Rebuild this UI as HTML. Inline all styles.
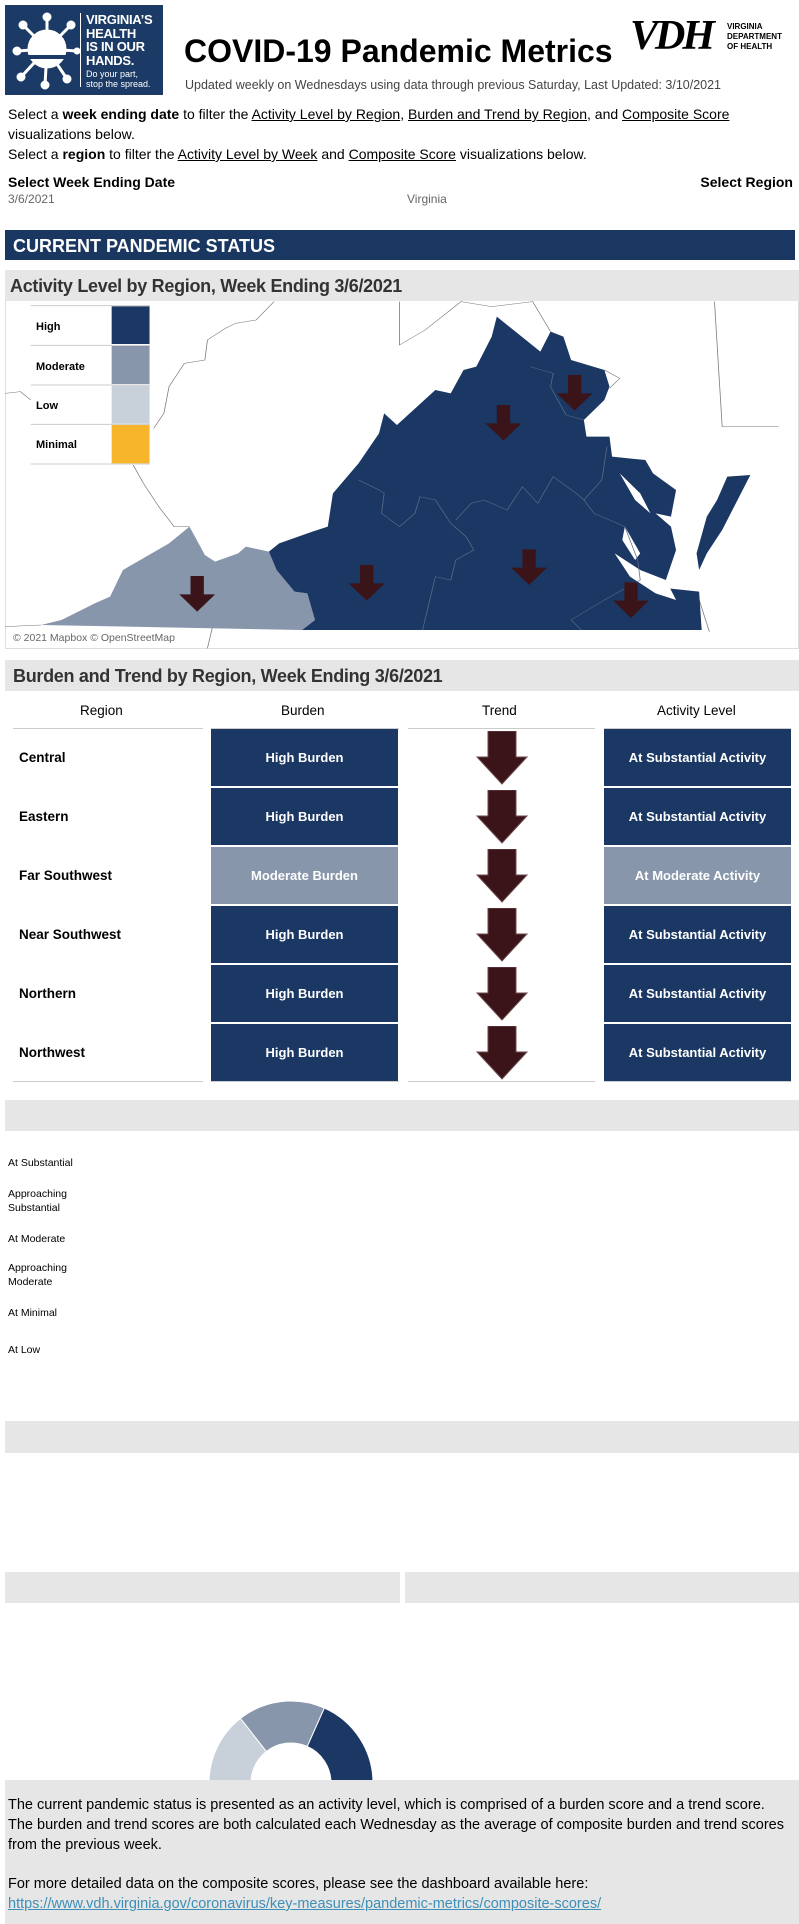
<!DOCTYPE html>
<html><head><meta charset="utf-8">
<style>
*{margin:0;padding:0;box-sizing:border-box}
body{width:799px;height:1924px;position:relative;background:#fff;font-family:"Liberation Sans",sans-serif;overflow:hidden;color:#000}
.a{position:absolute;white-space:nowrap}
.gbar{position:absolute;background:#e6e6e6}
.hdr{font-weight:bold;color:#333;font-size:18px;letter-spacing:-0.3px}
u{text-decoration:underline}
.cell{position:absolute;color:#fff;font-weight:bold;font-size:13px;display:flex;align-items:center;justify-content:center}
.rn{position:absolute;font-weight:bold;font-size:13.5px;left:19px}
.lbl{position:absolute;left:8px;font-size:10.5px;line-height:14px}
</style></head><body>

<!-- Logo -->
<div class="a" style="left:5px;top:5px;width:158px;height:90px;background:#1c3a66">
  <svg width="80" height="90" style="position:absolute;left:0;top:0">
    <g fill="#fff" stroke="#fff">
      <circle cx="42" cy="44" r="19"/>
      <g stroke-width="3">
        <line x1="42" y1="44" x2="42" y2="12"/><line x1="42" y1="44" x2="66" y2="20"/>
        <line x1="42" y1="44" x2="72" y2="46"/><line x1="42" y1="44" x2="62" y2="74"/>
        <line x1="42" y1="44" x2="40" y2="80"/><line x1="42" y1="44" x2="16" y2="72"/>
        <line x1="42" y1="44" x2="12" y2="46"/><line x1="42" y1="44" x2="18" y2="20"/>
      </g>
      <circle cx="42" cy="12" r="4"/><circle cx="66" cy="20" r="4"/><circle cx="72" cy="46" r="3"/>
      <circle cx="62" cy="74" r="4"/><circle cx="40" cy="80" r="4"/><circle cx="16" cy="72" r="4"/>
      <circle cx="12" cy="46" r="4"/><circle cx="18" cy="20" r="4"/>
    </g>
    <rect x="20" y="50" width="50" height="4" fill="#1c3a66"/>
  </svg>
  <div style="position:absolute;left:75px;top:8px;width:1px;height:74px;background:#fff"></div>
  <div style="position:absolute;left:81px;top:8px;color:#fff;font-weight:bold;font-size:13px;line-height:13.5px;letter-spacing:-0.3px">VIRGINIA’S<br>HEALTH<br>IS IN OUR<br>HANDS.</div>
  <div style="position:absolute;left:81px;top:64px;color:#fff;font-size:9px;line-height:10px">Do your part,<br>stop the spread.</div>
</div>

<div class="a" style="left:184px;top:33px;font-size:32px;font-weight:bold">COVID-19 Pandemic Metrics</div>
<div class="a" style="left:630px;top:14px;height:44px">
  <span style="font-family:'Liberation Serif',serif;font-style:italic;font-weight:bold;font-size:42px;letter-spacing:-3px;line-height:44px">VDH</span>
  <span style="position:absolute;left:97px;top:8px;font-size:8px;font-weight:bold;line-height:10px">VIRGINIA<br>DEPARTMENT<br>OF HEALTH</span>
</div>
<div class="a" style="left:185px;top:78px;font-size:12.5px;color:#444">Updated weekly on Wednesdays using data through previous Saturday, Last Updated: 3/10/2021</div>

<div class="a" style="left:8px;top:104px;font-size:14px;line-height:20px">Select a <b>week ending date</b> to filter the <u>Activity Level by Region</u>, <u>Burden and Trend by Region</u>, and <u>Composite Score</u><br>visualizations below.<br>Select a <b>region</b> to filter the <u>Activity Level by Week</u> and <u>Composite Score</u> visualizations below.</div>

<div class="a" style="left:8px;top:174px;font-size:14px;font-weight:bold">Select Week Ending Date</div>
<div class="a" style="left:8px;top:192px;font-size:12px;color:#666">3/6/2021</div>
<div class="a" style="right:6px;top:174px;font-size:14px;font-weight:bold">Select Region</div>
<div class="a" style="left:407px;top:192px;font-size:12px;color:#666">Virginia</div>

<div class="a" style="left:5px;top:230px;width:790px;height:30px;background:#1a3761;color:#fff;font-weight:bold;font-size:18px;padding:6px 0 0 8px">CURRENT PANDEMIC STATUS</div>

<div class="gbar" style="left:5px;top:270px;width:794px;height:31px"><div class="a hdr" style="left:5px;top:6px">Activity Level by Region, Week Ending 3/6/2021</div></div>

<!-- Map -->
<div class="a" style="left:5px;top:301px;width:794px;height:348px;border:1px solid #ddd;border-top:none"></div>
<svg class="a" style="left:0;top:260px" width="799" height="400" viewBox="0 0 1560 1200" preserveAspectRatio="none">
  <g fill="none" stroke="#777" stroke-width="1.5">
    <polyline points="535,125 500,180 460,190 440,205 405,240 400,300 360,310 330,380 320,460 300,505"/>
    <polyline points="10,400 40,395 60,420"/>
    <polyline points="260,615 280,670 310,740 340,800 370,800"/>
    <polyline points="780,125 780,255 830,210 900,125 960,140 1040,125 1075,215"/>
    <polyline points="1395,125 1410,500 1520,500"/>
    <polyline points="1180,330 1210,355 1190,385"/>
    <polyline points="10,1100 80,1095"/>
    <polyline points="360,1095 415,1100 405,1165"/>
    <polyline points="1360,995 1385,1115"/>
  </g>
  <polygon fill="#8796ab" points="525,875 480,860 465,880 420,905 400,885 370,800 330,850 240,930 215,1010 185,1030 120,1080 80,1095 590,1110 615,1080 600,1000 575,995 540,930"/>
  <polygon fill="#1b3763" points="970,170 1055,275 1075,215 1100,230 1115,300 1180,330 1190,380 1180,420 1140,480 1145,530 1190,530 1195,590 1260,600 1275,640 1320,690 1310,770 1280,760 1310,800 1320,870 1300,960 1305,985 1365,995 1370,1110 590,1110 615,1080 600,1000 575,995 540,930 525,875 545,850 610,815 640,800 650,700 700,610 740,520 750,460 775,495 850,390 880,400 905,330 930,320 960,230"/>
  <polygon fill="#1b3763" points="1420,650 1465,645 1440,720 1410,810 1380,880 1365,930 1360,880 1380,770 1400,720"/>
  <g fill="#fff">
    <polygon points="1210,640 1250,700 1270,760 1240,720"/>
    <polygon points="1220,800 1250,880 1240,900 1215,840"/>
    <polygon points="1200,880 1250,930 1300,960 1320,1020 1280,1000 1230,950"/>
  </g>
  <g fill="none" stroke="#5e6e88" stroke-width="1.5">
    <polyline points="1035,320 1080,340 1075,380 1105,465 1140,480"/>
    <polyline points="700,660 740,690 750,700 745,760 780,800 810,760 820,710 850,720 880,790 910,830 925,870 890,900 880,960 850,950 825,1110"/>
    <polyline points="890,780 920,730 945,720 990,750 1020,680 1050,730 1080,650 1125,700 1140,720 1175,660 1185,560"/>
    <polyline points="1140,720 1160,760 1220,800 1245,900 1250,960 1180,1020 1115,1080 1135,1110"/>
  </g>
  <g id="map-arrows" fill="#3b1419"></g>
  <g>
    <g stroke="#ccc" stroke-width="3"><line x1="60" y1="137" x2="293" y2="137"/><line x1="60" y1="256" x2="293" y2="256"/><line x1="60" y1="375" x2="293" y2="375"/><line x1="60" y1="493" x2="293" y2="493"/><line x1="60" y1="612" x2="293" y2="612"/></g>
    <rect x="218" y="139" width="74" height="113" fill="#1b3763"/>
    <rect x="218" y="258" width="74" height="114" fill="#8796ab"/>
    <rect x="218" y="377" width="74" height="114" fill="#c8d0da"/>
    <rect x="218" y="495" width="74" height="115" fill="#f6b52a"/>
  </g>
</svg>
<div class="a" style="left:36px;top:321px;font-size:11px;font-weight:bold">High</div>
<div class="a" style="left:36px;top:361px;font-size:11px;font-weight:bold">Moderate</div>
<div class="a" style="left:36px;top:400px;font-size:11px;font-weight:bold">Low</div>
<div class="a" style="left:36px;top:439px;font-size:11px;font-weight:bold">Minimal</div>
<div class="a" style="left:10px;top:632px;font-size:10.5px;color:#666;background:rgba(255,255,255,.8);padding:0 3px">© 2021 Mapbox © OpenStreetMap</div>

<!-- Burden & Trend table -->
<div class="gbar" style="left:5px;top:660px;width:794px;height:31px"><div class="a hdr" style="left:8px;top:6px">Burden and Trend by Region, Week Ending 3/6/2021</div></div>
<div class="a" style="left:80px;top:703px;font-size:13.5px">Region</div>
<div class="a" style="left:281px;top:703px;font-size:13.5px">Burden</div>
<div class="a" style="left:482px;top:703px;font-size:13.5px">Trend</div>
<div class="a" style="left:657px;top:703px;font-size:13.5px">Activity Level</div>
<div id="table"></div>

<!-- Lower sections -->
<div class="gbar" style="left:5px;top:1100px;width:794px;height:31px"></div>
<div class="lbl" style="top:1156px">At Substantial</div>
<div class="lbl" style="top:1187px">Approaching<br>Substantial</div>
<div class="lbl" style="top:1232px">At Moderate</div>
<div class="lbl" style="top:1261px">Approaching<br>Moderate</div>
<div class="lbl" style="top:1306px">At Minimal</div>
<div class="lbl" style="top:1343px">At Low</div>

<div class="gbar" style="left:5px;top:1421px;width:794px;height:32px"></div>
<div class="gbar" style="left:5px;top:1572px;width:395px;height:31px"></div>
<div class="gbar" style="left:405px;top:1572px;width:394px;height:31px"></div>

<svg class="a" id="gauge" style="left:0;top:1600px" width="799" height="180"></svg>

<div class="gbar" style="left:5px;top:1780px;width:794px;height:144px">
  <div class="a" style="left:3px;top:15px;font-size:14.5px;line-height:20px">The current pandemic status is presented as an activity level, which is comprised of a burden score and a trend score.<br>The burden and trend scores are both calculated each Wednesday as the average of composite burden and trend scores<br>from the previous week.</div>
  <div class="a" style="left:3px;top:94px;font-size:14.5px;line-height:20px">For more detailed data on the composite scores, please see the dashboard available here:<br><span style="color:#3d8fb8;text-decoration:underline">https://www.vdh.virginia.gov/coronavirus/key-measures/pandemic-metrics/composite-scores/</span></div>
</div>

<script>
// Map arrow positions are region centroids in map viewBox units
const mapArrowRegions = ["Northern","Central","Far Southwest","Near Southwest","Eastern","Northwest"];
const mapArrowX = [1122,983,385,716,1033,1232];
const mapArrowY = [345,435,948,915,868,967];
const g = document.getElementById('map-arrows');
for (let i=0;i<mapArrowX.length;i++){
  const x=mapArrowX[i], y=mapArrowY[i];
  const p=document.createElementNS('http://www.w3.org/2000/svg','polygon');
  p.setAttribute('points',`${x-13},${y} ${x+13},${y} ${x+13},${y+55} ${x+35},${y+55} ${x},${y+107} ${x-35},${y+55} ${x-13},${y+55}`);
  
  
  g.appendChild(p);
}

// Table data
const regions = ["Central","Eastern","Far Southwest","Near Southwest","Northern","Northwest"];
const burdens = ["High Burden","High Burden","Moderate Burden","High Burden","High Burden","High Burden"];
const trends = ["down","down","down","down","down","down"];
const activities = ["At Substantial Activity","At Substantial Activity","At Moderate Activity","At Substantial Activity","At Substantial Activity","At Substantial Activity"];
const colorFor = s => s.indexOf('Moderate')>=0 ? '#8796ab' : '#1b3763';
const tbl = document.getElementById('table');
function line(x,y,w){const d=document.createElement('div');d.className='a';d.style.cssText=`left:${x}px;top:${y}px;width:${w}px;height:1px;background:#ccc`;tbl.appendChild(d);}
[[13,190],[211,188],[408,187],[604,187]].forEach(c=>{line(c[0],728,c[1]);line(c[0],1081,c[1]);});
regions.forEach((r,i)=>{
  const top=729+i*59;
  const rn=document.createElement('div');rn.className='rn';rn.style.top=(top+21)+'px';rn.textContent=r;
  
  
  tbl.appendChild(rn);
  const b=document.createElement('div');b.className='cell';
  b.style.cssText=`left:211px;top:${top}px;width:187px;height:57px;background:${colorFor(burdens[i])}`;
  b.textContent=burdens[i];
  
  
  tbl.appendChild(b);
  const a=document.createElement('div');a.className='cell';
  a.style.cssText=`left:604px;top:${top}px;width:187px;height:57px;background:${colorFor(activities[i])}`;
  a.textContent=activities[i];
  
  
  tbl.appendChild(a);
  const s=document.createElementNS('http://www.w3.org/2000/svg','svg');
  s.setAttribute('width','52');s.setAttribute('height','56');
  s.setAttribute('class','a');s.style.left='476px';s.style.top=(top+2)+'px';
  
  
  const pts = trends[i]==='down' ? '12,0 40,0 40,26 51,26 26,53 1,26 12,26' : '12,53 40,53 40,27 51,27 26,0 1,27 12,27';
  s.innerHTML=`<polygon points="${pts}" fill="#3b1419" stroke="#6b4a4e" stroke-width="1"/>`;
  tbl.appendChild(s);
});

// Gauge data (degrees of a half-circle, left to right over the top)
const gaugeLevels = ["Minimal","Low","Moderate","High"];
const gaugeValues = [4,52,62,66];
const gaugeColors = ["#f6b52a","#c8d0da","#8796ab","#1b3763"];
const gs=document.getElementById('gauge');
const cx=291, cy=183, R=82, r=40;
let ang=184;
gaugeValues.forEach((v,i)=>{
  const a0=ang*Math.PI/180, a1=(ang-v)*Math.PI/180;
  const P=(rad,a)=>[cx+rad*Math.cos(a), cy-rad*Math.sin(a)];
  const [x0,y0]=P(R,a0),[x1,y1]=P(R,a1),[x2,y2]=P(r,a1),[x3,y3]=P(r,a0);
  const large=v>180?1:0;
  const p=document.createElementNS('http://www.w3.org/2000/svg','path');
  p.setAttribute('d',`M${x0},${y0} A${R},${R} 0 ${large} 1 ${x1},${y1} L${x2},${y2} A${r},${r} 0 ${large} 0 ${x3},${y3} Z`);
  p.setAttribute('fill',gaugeColors[i]);
  p.setAttribute('stroke','#fff');
  
  
  gs.appendChild(p);
  ang-=v;
});
</script>
</body></html>
